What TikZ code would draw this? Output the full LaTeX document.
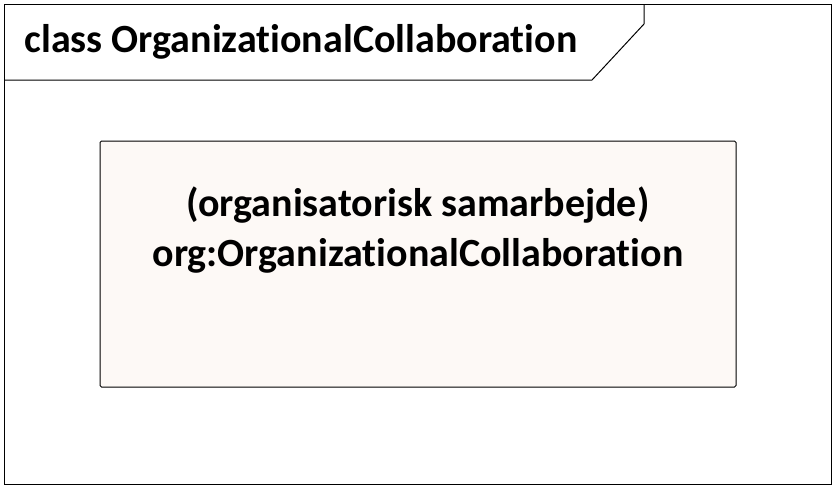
\documentclass[tikz,border=0pt]{standalone}
\usepackage{fontspec}
\setmainfont[Ligatures=NoCommon]{Carlito}
\begin{document}
\begin{tikzpicture}[x=1pt,y=-1pt]

% définition des styles
\tikzstyle{cadre}=[draw,line width=1.2pt]
\tikzstyle{classe}=[draw,line width=1pt,rounded corners=1.5pt,fill=fond]
\tikzstyle{texte}=[font=\fontsize{40}{50}\selectfont\bfseries]
\definecolor{fond}{HTML}{FDF9F6}

% le cadre
\useasboundingbox (0,0) rectangle (836,488);
\draw[cadre] (4.5,4.5) rectangle (831.5,484.5);
\coordinate (t1) at (4.5,80);
\coordinate (t2) at (592,80);
\coordinate (t3) at (644,24);
\coordinate (t4) at (644,4.5);
\draw[line width=1pt] (t1) -- (t2) -- (t3) -- (t4);
\node[texte,anchor=west] (titre) at (21,42) {class OrganizationalCollaboration};

% la classe
\node[classe,minimum width=636pt,minimum height=246pt] (org) at (418,264) {};
\node[texte,align=center] (nom) at (418,230) {(organisatorisk samarbejde)\\org:OrganizationalCollaboration};

\end{tikzpicture}
\end{document}
